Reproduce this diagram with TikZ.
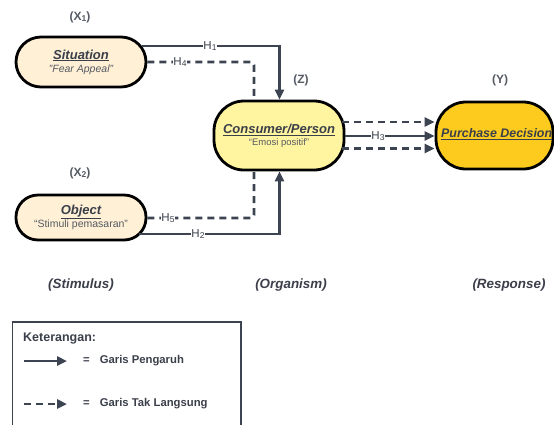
\documentclass[tikz,border=0pt]{standalone}
\usepackage{fontspec}
\setmainfont{Liberation Sans}
\usetikzlibrary{arrows.meta}
\definecolor{lineC}{HTML}{3D4451}
\definecolor{txtC}{HTML}{3A3F4A}
\definecolor{subC}{HTML}{555A63}
\definecolor{creamC}{HTML}{FFF0D6}
\definecolor{lyC}{HTML}{FFF5A0}
\definecolor{goldC}{HTML}{FCCB1E}
\tikzset{
  stadium/.style={draw=black, line width=2.8pt, rectangle, align=center, inner sep=0pt},
  conn/.style={draw=lineC, line width=2.8pt},
  dconn/.style={draw=lineC, line width=2.8pt, dash pattern=on 7pt off 5pt, rounded corners=3pt},
  arr/.style={-{Triangle[length=10pt,width=9pt]}},
  hlab/.style={fill=white, inner sep=0.6pt, text=txtC, font=\fontsize{11.5}{12}\selectfont},
  varlab/.style={text=subC, font=\bfseries\fontsize{12}{14}\selectfont},
  sorlab/.style={text=txtC, font=\bfseries\itshape\fontsize{13.4}{15}\selectfont},
}
\newcommand{\ttlfont}{\bfseries\itshape\fontsize{13}{15}\selectfont}
\newcommand{\subfont}{\fontsize{10.5}{12}\selectfont}
\newcommand{\sbs}[1]{\raisebox{-0.25ex}{\fontsize{8.5}{9}\selectfont #1}}
\begin{document}
\begin{tikzpicture}[x=1pt,y=-1pt]
\useasboundingbox (0,0) rectangle (554,424);
\begin{scope}
\clip (0,0) rectangle (554,424);
% nodes
\node[stadium, fill=creamC, minimum width=130pt, minimum height=50pt, rounded corners=25pt] (sit) at (81,62)
  {\textcolor{txtC}{\ttlfont\underline{Situation}}\\[1pt]\textcolor{subC}{\subfont\itshape ''Fear Appeal''}};
\node[stadium, fill=creamC, minimum width=130pt, minimum height=45pt, rounded corners=22pt] (obj) at (81,217.5)
  {\textcolor{txtC}{\ttlfont\underline{Object}}\\[0pt]\textcolor{subC}{\subfont “Stimuli pemasaran”}};
\node[stadium, fill=lyC, minimum width=130pt, minimum height=69pt, rounded corners=30pt] (con) at (279,135.5)
  {\textcolor{txtC}{\ttlfont\underline{Consumer/Person}}\\[0pt]\textcolor{subC}{\fontsize{9.5}{11}\selectfont “Emosi positif”}};
\node[stadium, fill=goldC, minimum width=117pt, minimum height=67pt, rounded corners=30pt] (pur) at (494.5,135.5)
  {};
\node[text=txtC, font=\bfseries\itshape\fontsize{12.4}{15}\selectfont, anchor=west, inner sep=0pt] (purt) at (441,134) {\underline{Purchase Decision}};
% variable labels
\node[varlab] (x1) at (80,17) {(X\sbs{1})};
\node[varlab] (x2) at (80,173) {(X\sbs{2})};
\node[varlab] (z) at (301,80) {(Z)};
\node[varlab] (y) at (500,80) {(Y)};
\node[sorlab] (sti) at (81,285) {(Stimulus)};
\node[sorlab] (org) at (291,285) {(Organism)};
\node[sorlab] (res) at (509,285) {(Response)};
% connectors
\coordinate (c1) at (279.5,46);
\coordinate (c4) at (254,62);
\coordinate (c5) at (254,218);
\coordinate (c2) at (279.5,234);
\draw[conn, arr] (sit.east |- c1) ++(-5,0) -- (c1) -- (con.north -| c1);
\draw[dconn] (sit.east |- c4) -- (c4) -- (con.north -| c4);
\draw[dconn] (obj.east |- c5) -- (c5) -- (con.south -| c5);
\draw[conn, arr] (obj.east |- c2) ++(-8,0) -- (c2) -- (con.south -| c2);
\draw[conn, arr] (con.east |- 0,136) -- (pur.west |- 0,136);
\draw[dconn, arr] (con.east |- 0,122) ++(-3,0) -- (pur.west |- 0,122);
\draw[dconn, arr] (con.east |- 0,148.5) ++(-3,0) -- (pur.west |- 0,148.5);
\node[hlab] (h1) at (210,46) {H\sbs{1}};
\node[hlab] (h4) at (180,62) {H\sbs{4}};
\node[hlab] (h5) at (168,218) {H\sbs{5}};
\node[hlab] (h2) at (198,234) {H\sbs{2}};
\node[hlab] (h3) at (378,136) {H\sbs{3}};
% legend
\draw[draw=lineC, line width=1.6pt] (12.5,322) rectangle (241,440);
\node[anchor=west, text=txtC, font=\bfseries\fontsize{12.5}{14}\selectfont, inner sep=0pt] (ket) at (23,339) {Keterangan:};
\coordinate (la1) at (24,361);
\coordinate (lb1) at (67,361);
\coordinate (la2) at (24,404);
\coordinate (lb2) at (67,404);
\draw[conn, arr] (la1) -- (lb1);
\draw[conn, arr, dash pattern=on 7pt off 5pt] (la2) -- (lb2);
\node[anchor=west, text=txtC, font=\bfseries\fontsize{11.3}{13}\selectfont, inner sep=0pt] (g1) at (83,361) {=\hspace{10pt}Garis Pengaruh};
\node[anchor=west, text=txtC, font=\bfseries\fontsize{11.3}{13}\selectfont, inner sep=0pt] (g2) at (83,404) {=\hspace{10pt}Garis Tak Langsung};
\end{scope}
\end{tikzpicture}
\end{document}
